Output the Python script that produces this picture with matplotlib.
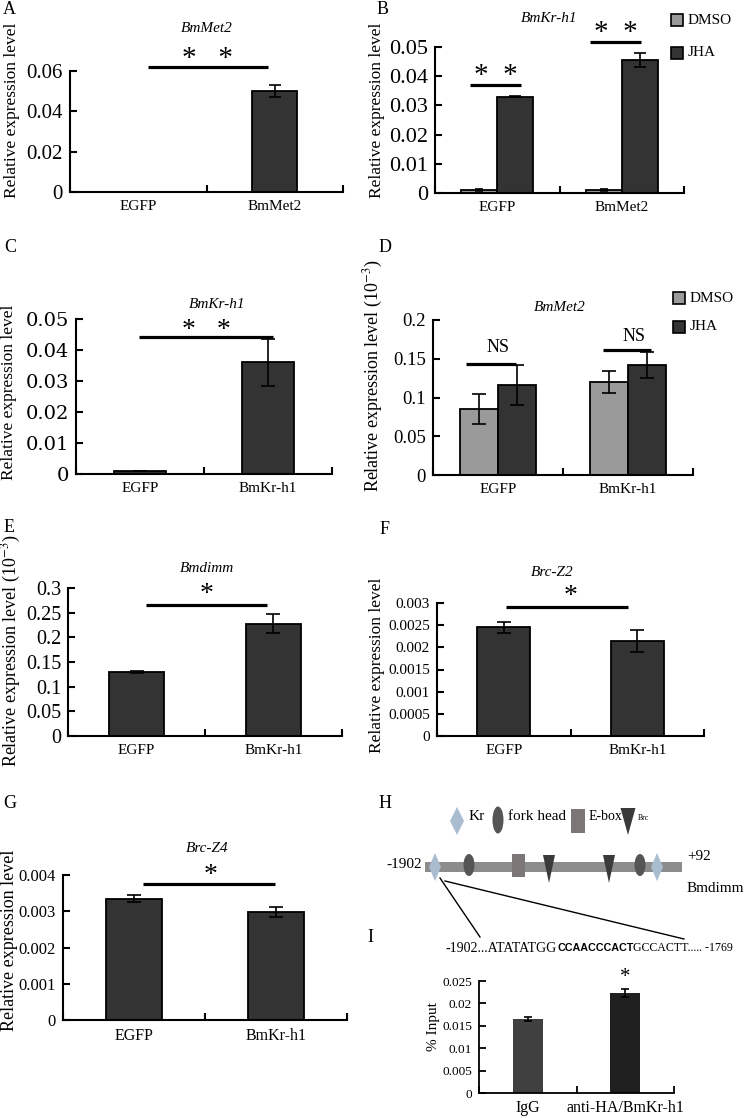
import matplotlib
matplotlib.use('Agg')
import matplotlib.pyplot as plt
from matplotlib.patches import Rectangle, Polygon, Ellipse
import numpy as np

plt.rcParams['font.family'] = ['Liberation Serif', 'DejaVu Serif']
plt.rcParams['mathtext.fontset'] = 'stix'
W, H = 745, 1118

# ---------------- data ----------------
a_cats = ['EGFP', 'BmMet2']
a_vals = [0.0, 0.050]
a_errs = [0.0, 0.003]
a_ticks = [0, 0.02, 0.04, 0.06]
a_ticklabels = ['0', '0.02', '0.04', '0.06']

b_cats = ['EGFP', 'BmMet2']
b_dmso = [0.0010, 0.0010]
b_dmso_err = [0.0002, 0.0003]
b_jha = [0.0330, 0.0455]
b_jha_err = [0.0002, 0.0025]
b_ticks = [0, 0.01, 0.02, 0.03, 0.04, 0.05]
b_ticklabels = ['0', '0.01', '0.02', '0.03', '0.04', '0.05']

c_cats = ['EGFP', 'BmKr-h1']
c_vals = [0.0010, 0.0360]
c_errs = [0.0, 0.0075]
c_ticks = [0, 0.01, 0.02, 0.03, 0.04, 0.05]
c_ticklabels = ['0', '0.01', '0.02', '0.03', '0.04', '0.05']

d_cats = ['EGFP', 'BmKr-h1']
d_dmso = [0.085, 0.120]
d_dmso_err = [0.019, 0.014]
d_jha = [0.116, 0.142]
d_jha_err = [0.026, 0.017]
d_ticks = [0, 0.05, 0.1, 0.15, 0.2]
d_ticklabels = ['0', '0.05', '0.1', '0.15', '0.2']

e_cats = ['EGFP', 'BmKr-h1']
e_vals = [0.130, 0.228]
e_errs = [0.002, 0.020]
e_ticks = [0, 0.05, 0.1, 0.15, 0.2, 0.25, 0.3]
e_ticklabels = ['0', '0.05', '0.1', '0.15', '0.2', '0.25', '0.3']

f_cats = ['EGFP', 'BmKr-h1']
f_vals = [0.00245, 0.00215]
f_errs = [0.00012, 0.00025]
f_ticks = [0, 0.0005, 0.001, 0.0015, 0.002, 0.0025, 0.003]
f_ticklabels = ['0', '0.0005', '0.001', '0.0015', '0.002', '0.0025', '0.003']

g_cats = ['EGFP', 'BmKr-h1']
g_vals = [0.00335, 0.00298]
g_errs = [0.00010, 0.00013]
g_ticks = [0, 0.001, 0.002, 0.003, 0.004]
g_ticklabels = ['0', '0.001', '0.002', '0.003', '0.004']

i_cats = ['IgG', 'anti-HA/BmKr-h1']
i_vals = [0.0165, 0.0224]
i_errs = [0.0005, 0.0009]
i_ticks = [0, 0.005, 0.01, 0.015, 0.02, 0.025]
i_ticklabels = ['0', '0.005', '0.01', '0.015', '0.02', '0.025']

seq_parts = ['-1902...ATATATGG', 'CCAACCCACT', 'GCCACTT..... -1769']

DARK = '#333333'
GRAY = '#9a9a9a'

fig = plt.figure(figsize=(W / 100, H / 100), dpi=100)


def fx(x):
    return x / W


def fy(y):
    return 1 - y / H


def make_ax(l, t, r, b, yticks, yticklabels, cats, tick_fs, cat_fs,
            lw=1.5, tick_family=None, cat_pad=6):
    ax = fig.add_axes([l / W, 1 - b / H, (r - l) / W, (b - t) / H])
    ax.set_xlim(0, len(cats))
    ax.set_ylim(0, yticks[-1])
    ax.patch.set_visible(False)
    for s in ['top', 'right']:
        ax.spines[s].set_visible(False)
    for s in ['left', 'bottom']:
        ax.spines[s].set_linewidth(lw)
    ax.set_xticks(range(len(cats) + 1))
    ax.set_xticklabels([])
    ax.set_xticks(np.arange(len(cats)) + 0.5, minor=True)
    ax.set_xticklabels(cats, minor=True, fontsize=cat_fs)
    ax.tick_params(axis='x', which='major', direction='in', length=5, width=lw)
    ax.tick_params(axis='x', which='minor', length=0, pad=cat_pad)
    ax.set_yticks(yticks)
    kw = {}
    if tick_family:
        kw['family'] = tick_family
    ax.set_yticklabels(yticklabels, fontsize=tick_fs, **kw)
    ax.tick_params(axis='y', direction='in', length=5, width=lw, pad=5)
    return ax


def bars(ax, x, vals, errs, width, color, lw=1.3, cap=4):
    ax.bar(x, vals, width, color=color, edgecolor='black', linewidth=lw,
           yerr=errs, capsize=cap, zorder=2,
           error_kw=dict(elinewidth=1.2, capthick=1.2, ecolor='black', zorder=3))


def sig(ax, x0, x1, y, txt, ty, fs=21, lw=2.3, xc=None):
    ax.plot([x0, x1], [y, y], color='black', lw=lw, clip_on=False,
            solid_capstyle='butt')
    if xc is None:
        xc = (x0 + x1) / 2
    ax.text(xc, ty, txt, ha='center', va='center', fontsize=fs)


def legend_sq(x, y, color, label, fs=11):
    fig.patches.append(Rectangle((fx(x - 6), fy(y + 6)), 12 / W, 12 / H,
                                 transform=fig.transFigure, facecolor=color,
                                 edgecolor='black', linewidth=1.2))
    fig.text(fx(x + 11), fy(y), label, ha='left', va='center', fontsize=fs)


def ylab(x, y, txt, fs=12.5):
    fig.text(fx(x), fy(y), txt, rotation=90, ha='center', va='center', fontsize=fs)


def letter(x, y, txt, fs=13):
    fig.text(fx(x), fy(y), txt, ha='center', va='center', fontsize=fs)


def title(x, y, txt, fs=11):
    fig.text(fx(x), fy(y), txt, ha='center', va='center', fontsize=fs, style='italic')


# ---------------- Panel A ----------------
axA = make_ax(70, 71, 343, 192, a_ticks, a_ticklabels, a_cats, 15, 11)
bars(axA, np.arange(2) + 0.5, a_vals, a_errs, 0.33, DARK)
sig(axA, 0.57, 1.45, 0.0620, '*   *', 0.0660)
letter(9, 10, 'A')
title(207, 28, 'BmMet2')
ylab(12, 110, 'Relative expression level')

# ---------------- Panel B ----------------
axB = make_ax(435, 47, 684, 193, b_ticks, b_ticklabels, b_cats, 16, 11)
bw = 0.29
bars(axB, np.arange(2) + 0.5 - bw / 2, b_dmso, b_dmso_err, bw, GRAY, cap=3)
bars(axB, np.arange(2) + 0.5 + bw / 2, b_jha, b_jha_err, bw, DARK, cap=4)
sig(axB, 0.28, 0.69, 0.0370, '*  *', 0.0402)
sig(axB, 1.245, 1.655, 0.0517, '*  *', 0.0549)
letter(383, 10, 'B')
title(549, 18, 'BmKr-h1')
ylab(377, 110, 'Relative expression level')
legend_sq(677, 20, GRAY, 'DMSO')
legend_sq(677, 53, DARK, 'JHA')

# ---------------- Panel C ----------------
axC = make_ax(76, 319, 332, 474, c_ticks, c_ticklabels, c_cats, 14, 11,
              tick_family='DejaVu Serif')
bars(axC, np.arange(2) + 0.5, c_vals, c_errs, 0.41, DARK, cap=5)
sig(axC, 0.49, 1.54, 0.0442, '*   *', 0.0464, fs=20)
letter(10, 248, 'C')
title(217, 305, 'BmKr-h1')
ylab(9, 392, 'Relative expression level')

# ---------------- Panel D ----------------
axD = make_ax(433, 320, 693, 475, d_ticks, d_ticklabels, d_cats, 13.5, 11)
bars(axD, np.arange(2) + 0.5 - bw / 2, d_dmso, d_dmso_err, bw, GRAY, cap=5)
bars(axD, np.arange(2) + 0.5 + bw / 2, d_jha, d_jha_err, bw, DARK, cap=5)
sig(axD, 0.25, 0.64, 0.1436, 'NS', 0.1640, fs=13, xc=0.50)
sig(axD, 1.31, 1.68, 0.1615, 'NS', 0.1790, fs=13, xc=1.55)
letter(385, 248, 'D')
title(560, 307, 'BmMet2')
ylab(373, 376, 'Relative expression level (10$^{-3}$)', fs=13)
legend_sq(679, 298, GRAY, 'DMSO')
legend_sq(679, 327, DARK, 'JHA')

# ---------------- Panel E ----------------
axE = make_ax(68, 588, 342, 736, e_ticks, e_ticklabels, e_cats, 14.5, 11)
bars(axE, np.arange(2) + 0.5, e_vals, e_errs, 0.40, DARK, cap=5)
sig(axE, 0.57, 1.45, 0.266, '*', 0.286, fs=20, xc=1.01)
letter(9, 528, 'E')
title(207, 569, 'Bmdimm')
ylab(11, 651, 'Relative expression level (10$^{-3}$)', fs=13)

# ---------------- Panel F ----------------
axF = make_ax(437, 603, 704, 736, f_ticks, f_ticklabels, f_cats, 11, 11)
bars(axF, np.arange(2) + 0.5, f_vals, f_errs, 0.40, DARK, cap=5)
sig(axF, 0.52, 1.43, 0.0029, '*', 0.00315, fs=20, xc=1.0)
letter(385, 530, 'F')
title(552, 573, 'Brc-Z2')
ylab(377, 665, 'Relative expression level', fs=12.5)

# ---------------- Panel G ----------------
axG = make_ax(63, 875, 347, 1020, g_ticks, g_ticklabels, g_cats, 12, 11.5)
bars(axG, np.arange(2) + 0.5, g_vals, g_errs, 0.39, DARK, cap=5)
sig(axG, 0.56, 1.49, 0.00375, '*', 0.00400, fs=20, xc=1.04)
letter(10, 803, 'G')
title(207, 848, 'Brc-Z4')
ylab(10, 940, 'Relative expression level', fs=13)

# ---------------- Panel H (promoter diagram) ----------------
letter(385, 803, 'H')
hax = fig.add_axes([372 / W, 1 - 960 / H, (W - 372) / W, (960 - 790) / H])
hax.set_xlim(372, W)
hax.set_ylim(960, 790)
hax.axis('off')

KR_C = '#a9bcd0'
FH_C = '#555555'
EB_C = '#7d7676'
BRC_C = '#3a3a3a'


def diamond(x, y, w, h):
    hax.add_patch(Polygon([(x, y - h / 2), (x + w / 2, y), (x, y + h / 2), (x - w / 2, y)],
                          closed=True, facecolor=KR_C, edgecolor='none', zorder=3))


def oval(x, y, w, h):
    hax.add_patch(Ellipse((x, y), w, h, facecolor=FH_C, edgecolor='none', zorder=3))


def square(x, y, w, h):
    hax.add_patch(Rectangle((x - w / 2, y - h / 2), w, h, facecolor=EB_C,
                            edgecolor='none', zorder=3))


def tri(x, y0, w, h):
    hax.add_patch(Polygon([(x - w / 2, y0), (x + w / 2, y0), (x, y0 + h)],
                          closed=True, facecolor=BRC_C, edgecolor='none', zorder=3))


# legend row
diamond(457, 821, 14, 28)
hax.text(469, 817, 'Kr', fontsize=11, va='center', ha='left')
oval(498, 820, 11, 27)
hax.text(508, 817, 'fork head', fontsize=11, va='center', ha='left')
square(578, 821, 14, 24)
hax.text(589, 817, 'E-box', fontsize=10, va='center', ha='left')
tri(628, 808, 15, 27)
hax.text(638, 818, 'Brc', fontsize=5.5, va='center', ha='left')

# gene body
hax.add_patch(Rectangle((425, 862), 257, 10, facecolor='#8c8c8c', edgecolor='none', zorder=2))
diamond(435, 867, 12, 28)
oval(469, 865, 11, 22)
square(518, 865, 13, 23)
tri(549, 855, 12, 28)
tri(609, 855, 12, 28)
oval(640, 865, 11, 22)
diamond(657, 867, 12, 28)
hax.text(422, 864, '-1902', fontsize=11, ha='right', va='center')
hax.text(687, 857, '+92', fontsize=11, ha='left', va='center')
hax.text(687, 889, 'Bmdimm', fontsize=11, ha='left', va='center')

# zoom lines
hax.plot([440, 480], [878, 937], color='black', lw=1.0)
hax.plot([445, 684], [881, 939], color='black', lw=1.0)

# sequence text with bold core motif
renderer = fig.canvas.get_renderer()
targets = [112, 76, 101]
styles = [dict(family='Liberation Serif', fontweight='normal'),
          dict(family='Liberation Sans', fontweight='bold'),
          dict(family='Liberation Serif', fontweight='normal')]
xcur = 445
for part, tw, st in zip(seq_parts, targets, styles):
    t = fig.text(fx(xcur), fy(948), part, fontsize=9, ha='left', va='center', **st)
    wpx = t.get_window_extent(renderer=renderer).width
    t.set_fontsize(9 * tw / wpx)
    xcur += tw

# ---------------- Panel I ----------------
letter(370, 937, 'I')
axI = make_ax(479, 981, 674, 1093, i_ticks, i_ticklabels, i_cats, 9.5, 11.5,
              lw=1.3, cat_pad=5)
axI.bar(0.5, i_vals[0], 0.31, color='#404040', yerr=i_errs[0], capsize=3,
        error_kw=dict(elinewidth=1.2, capthick=1.2, ecolor='black'))
axI.bar(1.5, i_vals[1], 0.31, color='#202020', yerr=i_errs[1], capsize=3,
        error_kw=dict(elinewidth=1.2, capthick=1.2, ecolor='black'))
axI.text(1.5, 0.0258, '*', ha='center', va='center', fontsize=15)
ylab(434, 1027, '% Input', fs=11)

fig.savefig('out.png', dpi=100)
